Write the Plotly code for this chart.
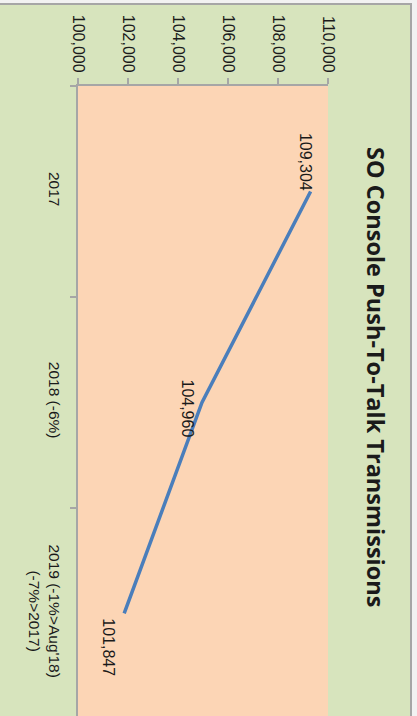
import plotly.graph_objects as go

categories = ["2017", "2018 (-6%)", "2019 (-1%>Aug'18)<br>(-7%>2017)"]
values = [109304, 104960, 101847]
value_labels = ["109,304", "104,960", "101,847"]
tick_vals = [100000, 102000, 104000, 106000, 108000, 110000]
tick_text = ["100,000", "102,000", "104,000", "106,000", "108,000", "110,000"]
title = "SO Console Push-To-Talk Transmissions"

W, H = 417, 716
L, R, T, B = 78, 89, 86, 0
pw, ph = W - L - R, H - T - B

def px_x(px):
    return (px - L) / pw

def px_y(py):
    return (H - B - py) / ph

fig = go.Figure()
fig.add_trace(go.Scatter(
    x=values, y=categories, mode="lines",
    line=dict(color="#4A7EBB", width=3.5),
    hoverinfo="skip", showlegend=False,
))

label_shifts = [(-5, 30), (-14, -6), (-16, -34)]
for i, (v, t, (dx, dy)) in enumerate(zip(values, value_labels, label_shifts)):
    fig.add_annotation(x=v, y=i, text=t, showarrow=False, textangle=90,
                       xanchor="center", yanchor="middle", xshift=dx, yshift=dy,
                       font=dict(family="Liberation Sans, Arial", size=16, color="#1a1a1a"))

fig.add_annotation(xref="paper", yref="paper", x=px_x(376), y=px_y(377),
                   text="<b>" + title + "</b>", showarrow=False, textangle=90,
                   xanchor="center", yanchor="middle",
                   font=dict(family="Open Sans, Liberation Sans", size=23.5, color="#1a1a1a"))

# outer chart area (green, grey border) and plot area (peach)
fig.add_shape(type="rect", xref="paper", yref="paper", layer="below",
              x0=px_x(-20), x1=px_x(411), y0=px_y(740), y1=px_y(4),
              fillcolor="#D7E4BD", line=dict(color="#A6A6A6", width=2))
fig.add_shape(type="rect", xref="x domain", yref="y domain", layer="below",
              x0=0, x1=1, y0=0, y1=1, fillcolor="#FCD5B5", line=dict(width=0))

fig.update_layout(
    width=W, height=H,
    margin=dict(l=L, r=R, t=T, b=B, pad=0),
    paper_bgcolor="#F2F2F2", plot_bgcolor="rgba(0,0,0,0)",
    showlegend=False,
    font=dict(family="Liberation Sans, Arial", size=16, color="#1a1a1a"),
    xaxis=dict(range=[100000, 110000], side="top", tickvals=tick_vals, ticktext=tick_text,
               tickangle=90, ticks="outside", ticklen=6, tickcolor="#A6A6A6", tickwidth=1.5,
               showline=True, linecolor="#A6A6A6", linewidth=1.5, showgrid=False,
               zeroline=False, tickfont=dict(size=16)),
    yaxis=dict(type="category", categoryarray=categories, range=[2.486, -0.5],
               tickangle=90, ticks="outside", ticklen=6, tickcolor="#A6A6A6", tickwidth=1.5,
               tickson="boundaries", ticklabelstandoff=9, showline=True, linecolor="#A6A6A6",
               linewidth=1.5, showgrid=False, zeroline=False, tickfont=dict(size=15.5)),
)

fig.write_html("out.html")
